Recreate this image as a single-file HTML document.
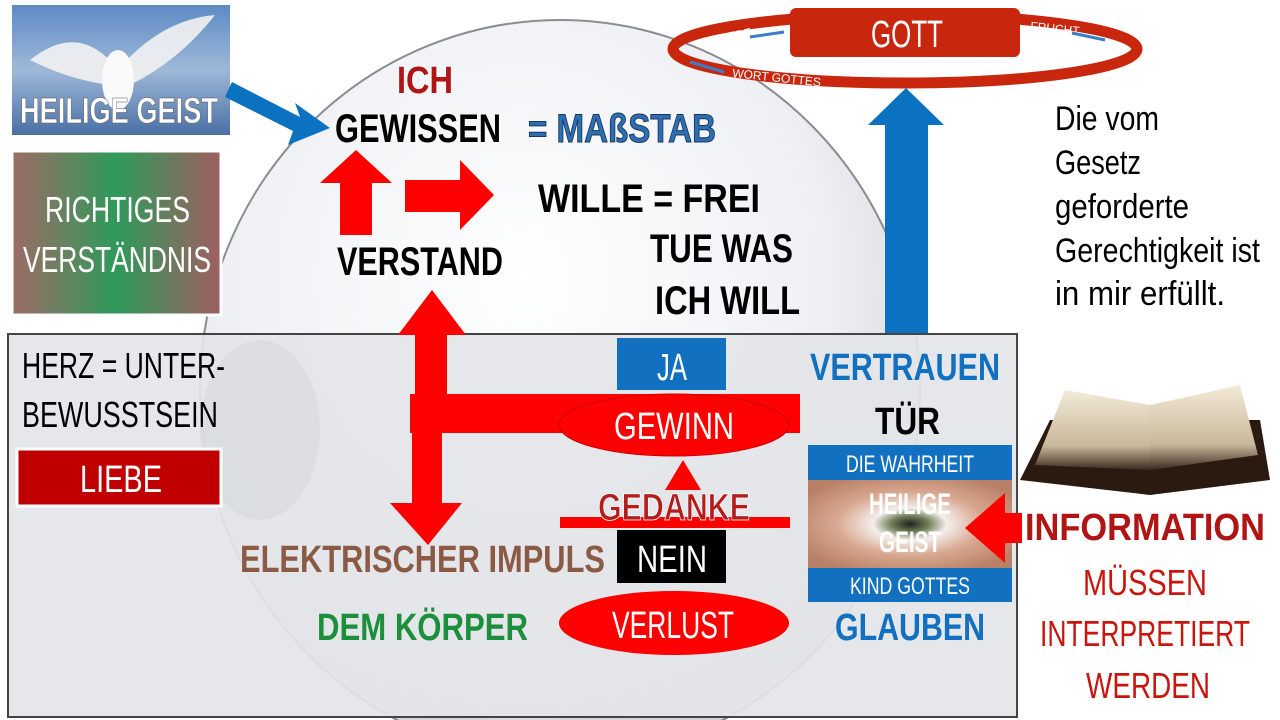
<!DOCTYPE html>
<html><head><meta charset="utf-8"><style>
html,body{margin:0;padding:0;background:#fff;width:1280px;height:720px;overflow:hidden}
svg{display:block}
svg text{font-family:"Liberation Sans Narrow","Liberation Sans",sans-serif}
</style></head><body>
<svg width="1280" height="720" viewBox="0 0 1280 720" xmlns="http://www.w3.org/2000/svg">
<defs>
<clipPath id="frame"><rect x="0" y="0" width="1280" height="720"/></clipPath>
<radialGradient id="head" cx="0.45" cy="0.35" r="0.7">
<stop offset="0" stop-color="#ffffff"/><stop offset="0.6" stop-color="#eef0f4"/><stop offset="1" stop-color="#c9ccd2"/></radialGradient>
<linearGradient id="sky" x1="0" y1="0" x2="0" y2="1"><stop offset="0" stop-color="#5d8ac4"/><stop offset="0.5" stop-color="#9fb8d8"/><stop offset="1" stop-color="#4a6fa5"/></linearGradient>
<linearGradient id="rv" x1="0" y1="0" x2="1" y2="0"><stop offset="0" stop-color="#9e6b66"/><stop offset="0.5" stop-color="#2e9a5a"/><stop offset="1" stop-color="#a05e62"/></linearGradient>
<radialGradient id="eye" cx="0.5" cy="0.5" r="0.6"><stop offset="0" stop-color="#222"/><stop offset="0.15" stop-color="#6f7d55"/><stop offset="0.3" stop-color="#f4eeea"/><stop offset="0.6" stop-color="#d8a890"/><stop offset="1" stop-color="#b98068"/></radialGradient>
<linearGradient id="book" x1="0" y1="0" x2="0" y2="1"><stop offset="0" stop-color="#f3ead8"/><stop offset="0.7" stop-color="#c8b89a"/><stop offset="1" stop-color="#3a2a1e"/></linearGradient>
</defs>
<g clip-path="url(#frame)">
<!-- head -->
<ellipse cx="560" cy="390" rx="360" ry="370" fill="url(#head)" stroke="#8a8d92" stroke-width="2"/>
<!-- grey box -->
<rect x="8" y="334" width="1009" height="383" fill="#e4e5e8" fill-opacity="0.92" stroke="#444" stroke-width="2"/>
<ellipse cx="260" cy="430" rx="60" ry="90" fill="#d6d8dc" opacity="0.6"/>
<!-- dove -->
<rect x="12" y="5" width="218" height="130" fill="url(#sky)"/>
<path d="M30,60 Q80,20 118,70 Q160,20 215,15 Q180,60 130,85 L110,85 Q70,80 30,60Z" fill="#f2f2f2" opacity="0.9"/>
<ellipse cx="118" cy="80" rx="16" ry="30" fill="#fafafa"/>
<text x="20" y="123" font-size="36" fill="#fff" font-weight="bold" textLength="198" lengthAdjust="spacingAndGlyphs" stroke="#555" stroke-width="0.5">HEILIGE GEIST</text>
<!-- blue arrow to Gewissen -->
<polygon points="232,82 300,117 295,103 330,128 288,145 293,131 225,97" fill="#0b71c1"/>
<!-- richtiges -->
<rect x="12" y="151" width="209" height="164" fill="url(#rv)" stroke="#fff" stroke-width="3"/>
<text x="45" y="222" font-size="36" fill="#fff" textLength="145" lengthAdjust="spacingAndGlyphs">RICHTIGES</text>
<text x="23" y="272" font-size="36" fill="#fff" textLength="188" lengthAdjust="spacingAndGlyphs">VERSTÄNDNIS</text>
<!-- ICH GEWISSEN -->
<text x="397" y="93" font-size="38" font-weight="bold" fill="#b01414" textLength="56" lengthAdjust="spacingAndGlyphs">ICH</text>
<text x="335" y="142" font-size="40" font-weight="bold" fill="#000" textLength="166" lengthAdjust="spacingAndGlyphs">GEWISSEN</text>
<text x="528" y="142" font-size="40" font-weight="bold" fill="#2e6db0" textLength="188" lengthAdjust="spacingAndGlyphs" stroke="#16375e" stroke-width="1">= MAßSTAB</text>
<!-- small arrows -->
<polygon points="340,235 372,235 372,183 392,183 356,150 320,183 340,183" fill="#f00"/>
<polygon points="405,180 460,180 460,160 494,195 460,230 460,212 405,212" fill="#f00"/>
<text x="337" y="275" font-size="40" font-weight="bold" fill="#000" textLength="166" lengthAdjust="spacingAndGlyphs">VERSTAND</text>
<text x="538" y="212" font-size="40" font-weight="bold" fill="#000" textLength="222" lengthAdjust="spacingAndGlyphs">WILLE   = FREI</text>
<text x="650" y="262" font-size="40" font-weight="bold" fill="#000" textLength="143" lengthAdjust="spacingAndGlyphs">TUE WAS</text>
<text x="655" y="314" font-size="40" font-weight="bold" fill="#000" textLength="145" lengthAdjust="spacingAndGlyphs">ICH WILL</text>
<!-- big red arrow structure -->
<polygon points="415,395 415,335 398,335 432,290 466,335 447,335 447,395" fill="#f00"/>
<rect x="410" y="394" width="390" height="39" fill="#f00"/>
<polygon points="412,433 442,433 442,503 462,503 428,545 390,503 412,503" fill="#f00"/>
<!-- JA -->
<rect x="617" y="338" width="109" height="52" fill="#1170c0"/>
<text x="657" y="380" font-size="38" fill="#fff" textLength="30" lengthAdjust="spacingAndGlyphs">JA</text>
<ellipse cx="674" cy="425" rx="115" ry="31" fill="#f00" stroke="#c00" stroke-width="1"/>
<text x="614" y="439" font-size="38" fill="#fff" textLength="120" lengthAdjust="spacingAndGlyphs">GEWINN</text>
<polygon points="665,490 683,460 701,490" fill="#f00"/>
<rect x="560" y="517" width="230" height="11" fill="#f00"/>
<text x="598" y="520" font-size="38" font-weight="bold" fill="#b51c1c" stroke="#fff" stroke-width="0.8" textLength="152" lengthAdjust="spacingAndGlyphs">GEDANKE</text>
<rect x="617" y="530" width="109" height="53" fill="#000"/>
<text x="637" y="572" font-size="38" fill="#fff" textLength="70" lengthAdjust="spacingAndGlyphs">NEIN</text>
<ellipse cx="674" cy="623" rx="115" ry="32" fill="#f00"/>
<text x="612" y="638" font-size="38" fill="#fff" textLength="122" lengthAdjust="spacingAndGlyphs">VERLUST</text>
<text x="240" y="572" font-size="38" font-weight="bold" fill="#8a5a45" textLength="365" lengthAdjust="spacingAndGlyphs">ELEKTRISCHER IMPULS</text>
<text x="317" y="640" font-size="38" font-weight="bold" fill="#1c8f3c" textLength="211" lengthAdjust="spacingAndGlyphs">DEM KÖRPER</text>
<!-- herz -->
<text x="22" y="378" font-size="36" fill="#000" textLength="203" lengthAdjust="spacingAndGlyphs">HERZ = UNTER-</text>
<text x="22" y="427" font-size="36" fill="#000" textLength="196" lengthAdjust="spacingAndGlyphs">BEWUSSTSEIN</text>
<rect x="17" y="449" width="204" height="57" fill="#c00000" stroke="#fff" stroke-width="3"/>
<text x="80" y="492" font-size="38" fill="#fff" textLength="82" lengthAdjust="spacingAndGlyphs">LIEBE</text>
<!-- blue up arrow -->
<polygon points="885,333 885,125 868,125 906,88 944,125 928,125 928,333" fill="#0b71c1"/>
<!-- GOTT ring -->
<ellipse cx="905" cy="49" rx="232" ry="34" fill="none" stroke="#c8270e" stroke-width="11"/>
<rect x="790" y="8" width="230" height="49" rx="6" fill="#c8270e"/>
<text x="871" y="47" font-size="38" fill="#fff" textLength="72" lengthAdjust="spacingAndGlyphs">GOTT</text>
<text x="719" y="43" font-size="12" fill="#fff" transform="rotate(-12 719 43)">LIEBE</text>
<line x1="750" y1="37" x2="784" y2="32" stroke="#3a7cc8" stroke-width="3"/>
<text x="1030" y="30" font-size="12" fill="#fff" transform="rotate(6 1030 30)">FRUCHT</text>
<line x1="1072" y1="33" x2="1105" y2="40" stroke="#3a7cc8" stroke-width="3"/>
<line x1="690" y1="62" x2="724" y2="72" stroke="#3a7cc8" stroke-width="3"/>
<text x="732" y="77" font-size="12" fill="#fff" transform="rotate(6 732 77)">WORT GOTTES</text>
<!-- right text -->
<g font-size="34" fill="#000">
<text x="1055" y="130" textLength="104" lengthAdjust="spacingAndGlyphs">Die vom</text>
<text x="1055" y="174" textLength="86" lengthAdjust="spacingAndGlyphs">Gesetz</text>
<text x="1055" y="218" textLength="134" lengthAdjust="spacingAndGlyphs">geforderte</text>
<text x="1055" y="262" textLength="205" lengthAdjust="spacingAndGlyphs">Gerechtigkeit ist</text>
<text x="1055" y="305" textLength="170" lengthAdjust="spacingAndGlyphs">in mir erfüllt.</text>
</g>
<!-- vertrauen / eye -->
<text x="810" y="380" font-size="38" font-weight="bold" fill="#1170c0" textLength="190" lengthAdjust="spacingAndGlyphs">VERTRAUEN</text>
<text x="875" y="434" font-size="38" font-weight="bold" fill="#000" textLength="65" lengthAdjust="spacingAndGlyphs">TÜR</text>
<rect x="808" y="445" width="204" height="157" fill="#1170c0"/>
<rect x="808" y="480" width="204" height="88" fill="url(#eye)"/>
<text x="846" y="472" font-size="24" fill="#fff" textLength="128" lengthAdjust="spacingAndGlyphs">DIE WAHRHEIT</text>
<text x="850" y="594" font-size="24" fill="#fff" textLength="120" lengthAdjust="spacingAndGlyphs">KIND GOTTES</text>
<text x="869" y="514" font-size="30" font-weight="bold" fill="#fff" textLength="82" lengthAdjust="spacingAndGlyphs">HEILIGE</text>
<text x="879" y="552" font-size="30" font-weight="bold" fill="#fff" textLength="62" lengthAdjust="spacingAndGlyphs">GEIST</text>
<text x="835" y="640" font-size="38" font-weight="bold" fill="#1170c0" textLength="150" lengthAdjust="spacingAndGlyphs">GLAUBEN</text>
<polygon points="1022,513 1005,513 1005,493 965,528 1005,563 1005,543 1022,543" fill="#f00"/>
<!-- bible -->
<polygon points="1020,480 1050,420 1260,420 1270,480 1150,495" fill="#2a1a10"/>
<polygon points="1035,465 1065,390 1150,405 1150,470" fill="url(#book)"/>
<polygon points="1150,470 1150,405 1240,385 1258,455" fill="url(#book)"/>
<text x="1025" y="540" font-size="38" font-weight="bold" fill="#b01414" textLength="240" lengthAdjust="spacingAndGlyphs">INFORMATION</text>
<g font-size="36" fill="#c8150e">
<text x="1083" y="595" textLength="124" lengthAdjust="spacingAndGlyphs">MÜSSEN</text>
<text x="1040" y="646" textLength="210" lengthAdjust="spacingAndGlyphs">INTERPRETIERT</text>
<text x="1086" y="698" textLength="124" lengthAdjust="spacingAndGlyphs">WERDEN</text>
</g>
</g>
</svg>
</body></html>
